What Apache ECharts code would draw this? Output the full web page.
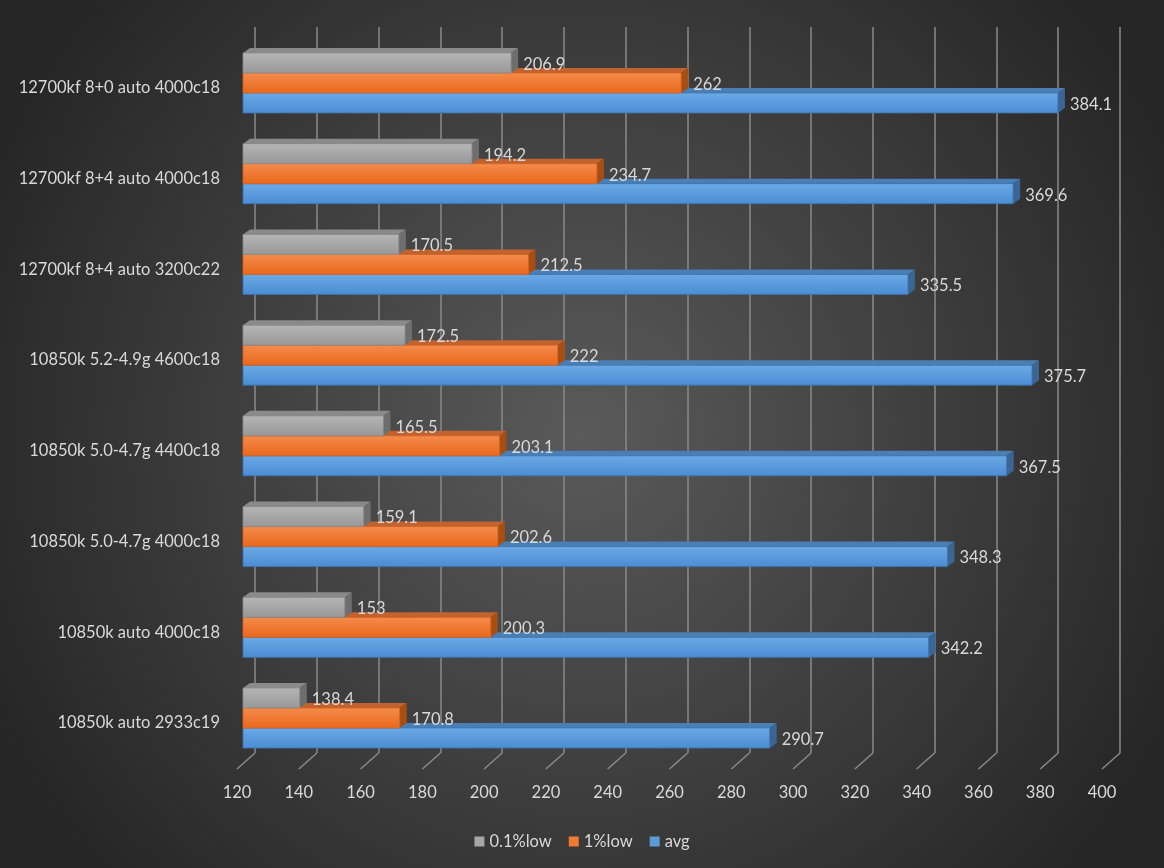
<!DOCTYPE html>
<html>
<head>
<meta charset="utf-8">
<script src="https://cdn.jsdelivr.net/npm/echarts@6/dist/echarts.min.js"></script>
<style>html,body{margin:0;padding:0;background:#333;}#c{width:1164px;height:868px;}</style>
</head>
<body>
<div id="c"></div>
<script>
const categories = [
  "12700kf 8+0 auto 4000c18",
  "12700kf 8+4 auto 4000c18",
  "12700kf 8+4 auto 3200c22",
  "10850k 5.2-4.9g 4600c18",
  "10850k 5.0-4.7g 4400c18",
  "10850k 5.0-4.7g 4000c18",
  "10850k auto 4000c18",
  "10850k auto 2933c19"
];
const low01 = [206.9, 194.2, 170.5, 172.5, 165.5, 159.1, 153, 138.4];
const low1 = [262, 234.7, 212.5, 222, 203.1, 202.6, 200.3, 170.8];
const avg = [384.1, 369.6, 335.5, 375.7, 367.5, 348.3, 342.2, 290.7];
const seriesNames = ["0.1%low", "1%low", "avg"];
const xTicks = [120,140,160,180,200,220,240,260,280,300,320,340,360,380,400];

const FONT = 'Lato, "Open Sans", sans-serif';
const FS = 16.5;
const TXT = '#d9d9d9';
const styles = [
  {main:'#a6a6a6', top:'#b6b6b6', bot:'#979797', topFace:'#8a8a8a', side:'#6e6e6e', edge:'#8c8c8c'},
  {main:'#f07a32', top:'#f58c4c', bot:'#e9671c', topFace:'#c2622f', side:'#a84e12', edge:'#d7641f'},
  {main:'#5b9bd5', top:'#6caae6', bot:'#4a8cd3', topFace:'#4a7fb6', side:'#3a6594', edge:'#3d74b0'}
];
const BAR_H = 20, DX = 7, DY = 5;
const offs = [-30, -10, 10];

function makeRender(k) {
  const s = styles[k];
  return function (params, api) {
    const val = api.value(0), cat = api.value(1);
    const p0 = api.coord([xTicks[0], cat]);
    const p1 = api.coord([val, cat]);
    const x0 = p0[0], x1 = p1[0];
    const y0 = p0[1] + offs[k], y1 = y0 + BAR_H;
    return {
      type: 'group',
      children: [
        {type:'polygon', shape:{points:[[x0,y0],[x0+DX,y0-DY],[x1+DX,y0-DY],[x1,y0]]},
          style:{fill:s.topFace}},
        {type:'polygon', shape:{points:[[x1,y0],[x1+DX,y0-DY],[x1+DX,y1-DY],[x1,y1]]},
          style:{fill:s.side}},
        {type:'rect', shape:{x:x0, y:y0, width:x1-x0, height:BAR_H},
          style:{fill:{type:'linear',x:0,y:0,x2:0,y2:1,colorStops:[{offset:0,color:s.top},{offset:1,color:s.bot}]},
                 stroke:s.edge, lineWidth:0.8}},
        {type:'text', x:x1+12, y:(y0+y1)/2+1.5,
          style:{text:String(val), fill:TXT, font:FS + 'px ' + FONT, textVerticalAlign:'middle', textAlign:'left'}}
      ]
    };
  };
}

const dataSets = [low01, low1, avg];
const barSeries = dataSets.map((arr, k) => ({
  name: seriesNames[k],
  type: 'custom',
  xAxisIndex: 0, yAxisIndex: 0,
  z: 5 - k,
  itemStyle: {color: styles[k].main},
  renderItem: makeRender(k),
  encode: {x: 0, y: 1},
  data: arr.map((v, i) => [v, i])
}));

const floorSeries = {
  type: 'custom',
  xAxisIndex: 1, yAxisIndex: 1,
  silent: true, z: 1,
  renderItem: function (params, api) {
    const p = api.coord([api.value(0), 0]);
    return {type:'line', shape:{x1:p[0], y1:p[1], x2:p[0]-18, y2:p[1]+16},
      style:{stroke:'#8a8a8a', lineWidth:1.5}};
  },
  data: xTicks.map(t => [t])
};

const chart = echarts.init(document.getElementById('c'));
chart.setOption({
  backgroundColor: {type:'radial', x:0.5, y:0.5, r:0.75,
    colorStops:[{offset:0,color:'#5a5a5a'},{offset:1,color:'#262626'}]},
  animation: false,
  textStyle: {fontFamily: FONT},
  legend: {
    data: seriesNames, top: 828, left: 'center',
    icon: 'rect', itemWidth: 10, itemHeight: 10, itemGap: 17,
    textStyle: {color: TXT, fontSize: FS, fontFamily: FONT}
  },
  grid: [
    {left: 243, right: 57, top: 37.6, bottom: 104.6},
    {left: 255, right: 44, top: 27, bottom: 115},
    {left: 237, right: 62, top: 760, bottom: 98}
  ],
  xAxis: [
    {gridIndex: 0, type: 'value', min: xTicks[0], max: xTicks[xTicks.length-1], interval: 20, show: false},
    {gridIndex: 1, type: 'value', min: xTicks[0], max: xTicks[xTicks.length-1], interval: 20,
      axisLine:{show:false}, axisTick:{show:false}, axisLabel:{show:false},
      splitLine:{show:true, lineStyle:{color:'#8a8a8a', width:1.5}}},
    {gridIndex: 2, type: 'value', min: xTicks[0], max: xTicks[xTicks.length-1], interval: 20,
      axisLine:{show:false}, axisTick:{show:false}, splitLine:{show:false},
      axisLabel:{color: TXT, fontSize: FS, fontFamily: FONT, margin: 14}}
  ],
  yAxis: [
    {gridIndex: 0, type: 'category', inverse: true, data: categories,
      axisLine:{show:false}, axisTick:{show:false},
      axisLabel:{color: TXT, fontSize: FS, fontFamily: FONT, margin: 23, verticalAlign: 'top', lineHeight: 10}},
    {gridIndex: 1, type: 'value', min: 0, max: 1, show: false},
    {gridIndex: 2, type: 'value', min: 0, max: 1, show: false}
  ],
  series: [floorSeries].concat(barSeries)
});
</script>
</body>
</html>
